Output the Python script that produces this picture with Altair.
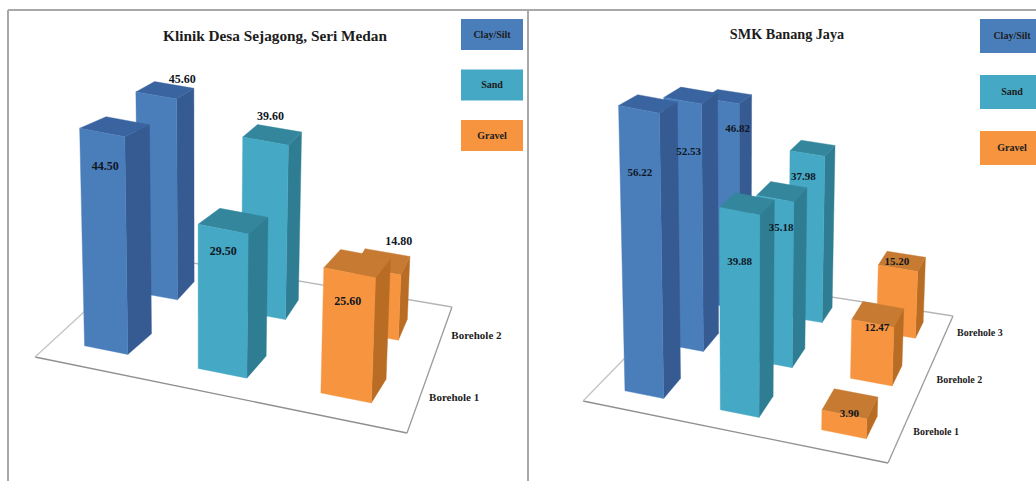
import altair as alt

# Soil composition (%) per borehole, one list per soil class
soils = ["Clay/Silt", "Sand", "Gravel"]
klinik_boreholes = ["Borehole 1", "Borehole 2"]
klinik_clay = [44.50, 45.60]
klinik_sand = [29.50, 39.60]
klinik_gravel = [25.60, 14.80]

smk_boreholes = ["Borehole 1", "Borehole 2", "Borehole 3"]
smk_clay = [56.22, 52.53, 46.82]
smk_sand = [39.88, 35.18, 37.98]
smk_gravel = [3.90, 12.47, 15.20]

# Front, side and top shades of each soil class
SHADES = {
    "Clay/Silt": ("#4a7ebb", "#365a92", "#3a64a0"),
    "Sand": ("#45a8c5", "#2f7d92", "#34869c"),
    "Gravel": ("#f79440", "#b96c24", "#c67a32"),
}

# 3D view of each panel: floor corners, bar footprints and height scale.
# A row is (front depth, back depth, sideways drift of its back edge).
PANELS = [
    {
        "title": "Klinik Desa Sejagong, Seri Medan",
        "title_pos": (275, 36),
        "title_size": 15.3,
        "floor": {"fl": (35, 357), "fr": (407, 433), "bl": (146, 255), "br": (452, 307)},
        "cols": [(0.085, 0.205), (0.40, 0.535), (0.74, 0.88)],
        "rows": [(0.17, 0.37, 0.012), (0.68, 0.85, 0.0)],
        "boreholes": klinik_boreholes,
        "values": [klinik_clay, klinik_sand, klinik_gravel],
        "unit": (5.05, 0.95),
        "lean_center": 200,
        "label_offsets": [
            [(3, 33), (26, -16)],
            [(0, 22), (5, -25)],
            [(-2, 28), (21, -30)],
        ],
        "axis_size": 11,
        "value_size": 12,
        "legend": {"x": (461, 523), "y": 19, "h": 31, "step": 50.5, "size": 10},
    },
    {
        "title": "SMK Banang Jaya",
        "title_pos": (787, 35),
        "title_size": 14.2,
        "floor": {"fl": (583, 401), "fr": (888, 463), "bl": (704, 277), "br": (953, 316)},
        "cols": [(0.09, 0.22), (0.41, 0.54), (0.75, 0.90)],
        "rows": [(0.125, 0.28, 0.0), (0.49, 0.63, 0.0), (0.82, 0.93, 0.0)],
        "boreholes": smk_boreholes,
        "values": [smk_clay, smk_sand, smk_gravel],
        "unit": (5.2, 1.0),
        "lean_center": 740,
        "label_offsets": [
            [(1, 64), (6, 51), (16, 28)],
            [(0, 51), (6, 29), (-4, 24)],
            [(5, 0), (4, 5), (-1, -6)],
        ],
        "axis_size": 10,
        "value_size": 11,
        "legend": {"x": (980, 1036), "y": 19, "h": 34, "step": 56, "size": 10},
    },
]
LEAN = 1.95e-4
WIDTH, HEIGHT = 1036, 481


def lerp(a, b, t):
    return (a[0] + (b[0] - a[0]) * t, a[1] + (b[1] - a[1]) * t)


def floor_point(floor, u, v):
    return lerp(lerp(floor["fl"], floor["fr"], u), lerp(floor["bl"], floor["br"], u), v)


def raised(panel, u, v, value):
    """Project a point of the bar at height `value` above floor position (u, v)."""
    x, y = floor_point(panel["floor"], u, v)
    rise = value * (panel["unit"][0] - panel["unit"][1] * v)
    return (x + LEAN * (x - panel["lean_center"]) * rise, y - rise)


def face(points, fill):
    ring = [list(p) for p in points] + [list(points[0])]
    return {
        "type": "Feature",
        "geometry": {"type": "Polygon", "coordinates": [ring]},
        "properties": {"fill": fill},
    }


faces, value_labels, texts, rules, boxes = [], [], [], [], []

for panel in PANELS:
    # Painted from the back row forward so nearer bars cover farther ones
    for r in reversed(range(len(panel["rows"]))):
        v0, v1, drift = panel["rows"][r]
        for c, soil in enumerate(soils):
            u0, u1 = panel["cols"][c]
            value = panel["values"][c][r]
            front_col, side_col, top_col = SHADES[soil]
            b_fl = raised(panel, u0, v0, 0)
            b_fr = raised(panel, u1, v0, 0)
            b_br = raised(panel, u1 + drift, v1, 0)
            t_fl = raised(panel, u0, v0, value)
            t_fr = raised(panel, u1, v0, value)
            t_br = raised(panel, u1 + drift, v1, value)
            t_bl = raised(panel, u0 + drift, v1, value)
            faces.append(face([b_fr, b_br, t_br, t_fr], side_col))
            faces.append(face([t_fl, t_fr, t_br, t_bl], top_col))
            faces.append(face([b_fl, b_fr, t_fr, t_fl], front_col))
            dx, dy = panel["label_offsets"][c][r]
            value_labels.append({
                "x": (t_fl[0] + t_fr[0]) / 2 + dx,
                "y": (t_fl[1] + t_fr[1]) / 2 + dy,
                "label": f"{value:.2f}",
                "size": panel["value_size"],
            })

    # Floor outline
    floor = panel["floor"]
    for a, b, col in [("fl", "fr", "#8f8f8f"), ("fr", "br", "#9a9a9a"), ("br", "bl", "#b5b5b5"), ("bl", "fl", "#c4c4c4")]:
        rules.append({"x": floor[a][0], "y": floor[a][1], "x2": floor[b][0], "y2": floor[b][1], "col": col, "w": 1.3})

    # Borehole names beside the right floor edge
    for r, name in enumerate(panel["boreholes"]):
        v = (panel["rows"][r][0] + panel["rows"][r][1]) / 2
        px, py = floor_point(floor, 1, v)
        texts.append({"x": px + 35, "y": py - 1, "label": name, "size": panel["axis_size"]})

    texts.append({"x": panel["title_pos"][0], "y": panel["title_pos"][1], "label": panel["title"], "size": panel["title_size"]})

    # Soil class keys
    key = panel["legend"]
    for i, soil in enumerate(soils):
        top = key["y"] + i * key["step"]
        boxes.append({"x": key["x"][0], "x2": key["x"][1], "y": top, "y2": top + key["h"], "col": SHADES[soil][0]})
        texts.append({"x": sum(key["x"]) / 2 + (4 if key["x"][1] >= WIDTH else 0), "y": top + key["h"] / 2, "label": soil, "size": key["size"]})

# Panel frames
for x, y, x2, y2 in [(8, 10, WIDTH, 10), (8, 10, 8, HEIGHT), (528, 10, 528, HEIGHT)]:
    rules.append({"x": x, "y": y, "x2": x2, "y2": y2, "col": "#a8a8a8", "w": 2})

x_scale = alt.Scale(domain=[0, WIDTH], range=[0, WIDTH], nice=False, zero=False)
y_scale = alt.Scale(domain=[0, HEIGHT], range=[0, HEIGHT], nice=False, zero=False)
X = alt.X("x:Q", scale=x_scale, axis=None)
Y = alt.Y("y:Q", scale=y_scale, axis=None)

rule_layer = alt.Chart(alt.Data(values=rules)).mark_rule().encode(
    x=X,
    y=Y,
    x2="x2:Q",
    y2="y2:Q",
    color=alt.Color("col:N", scale=None),
    strokeWidth=alt.StrokeWidth("w:Q", scale=None),
)

bar_layer = alt.Chart(
    alt.Data(values=faces)
).mark_geoshape(strokeWidth=0.4).encode(
    fill=alt.Fill("properties.fill:N", scale=None),
    stroke=alt.Stroke("properties.fill:N", scale=None),
).project(type="identity", scale=1, translate=[0, 0])

box_layer = alt.Chart(alt.Data(values=boxes)).mark_rect().encode(
    x=X,
    y=Y,
    x2="x2:Q",
    y2="y2:Q",
    color=alt.Color("col:N", scale=None),
)


def text_layer(rows, color):
    return alt.Chart(alt.Data(values=rows)).mark_text(
        font="Liberation Serif", fontWeight="bold", color=color, align="center", baseline="middle"
    ).encode(
        x=X,
        y=Y,
        text="label:N",
        size=alt.Size("size:Q", scale=None),
    )


chart = alt.layer(
    rule_layer,
    bar_layer,
    box_layer,
    text_layer(value_labels, "#10161f"),
    text_layer(texts, "#1c1c1c"),
).properties(
    width=WIDTH,
    height=HEIGHT,
    padding=0,
    background="white",
    autosize=alt.AutoSizeParams(type="none"),
).configure_view(stroke=None)

chart.save("out.html", embed_options={"renderer": "svg", "actions": False})
